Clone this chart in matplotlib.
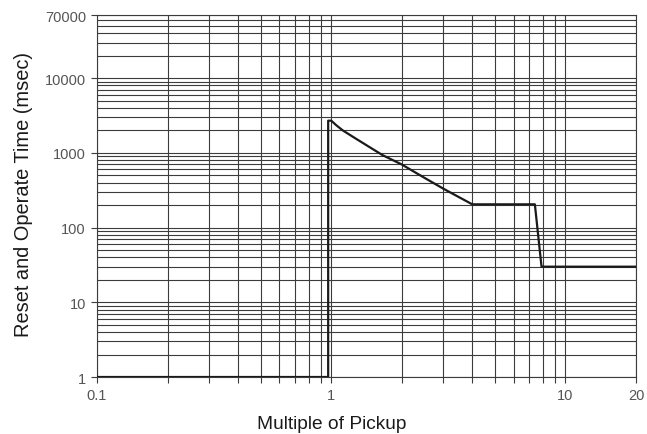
import matplotlib
matplotlib.use("Agg")
import matplotlib.pyplot as plt
from matplotlib.ticker import FixedLocator, LogLocator, NullFormatter

# Reset / operate time curve
multiple = [0.1, 0.97, 0.97, 1.0, 1.05, 1.12, 1.25, 1.5, 1.66, 2.0, 2.5, 3.0, 3.5, 4.0, 7.4, 7.9, 20]
time_ms = [1, 1, 2700, 2700, 2350, 2000, 1610, 1130, 930, 700, 464, 334, 257, 205, 205, 30, 30]

x_ticks = [0.1, 1, 10, 20]
x_labels = ["0.1", "1", "10", "20"]
y_ticks = [1, 10, 100, 1000, 10000, 70000]
y_labels = ["1", "10", "100", "1000", "10000", "70000"]

plt.rcParams["font.family"] = ["Liberation Sans", "DejaVu Sans"]

fig = plt.figure(figsize=(6.47, 4.35), dpi=100)
ax = fig.add_axes([0.150, 0.131, 0.833, 0.832])

ax.plot(multiple, time_ms, color="#1a1a1a", lw=1.6, zorder=3)

ax.set_xscale("log")
ax.set_yscale("log")
ax.set_xlim(0.1, 20)
ax.set_ylim(1, 70000)

ax.xaxis.set_major_locator(FixedLocator(x_ticks))
ax.set_xticklabels(x_labels)
ax.xaxis.set_minor_locator(LogLocator(base=10, subs=range(2, 10)))
ax.xaxis.set_minor_formatter(NullFormatter())
ax.yaxis.set_major_locator(FixedLocator(y_ticks))
ax.set_yticklabels(y_labels)
ax.yaxis.set_minor_locator(LogLocator(base=10, subs=range(2, 10)))
ax.yaxis.set_minor_formatter(NullFormatter())

# grid on every decade subdivision
ax.grid(True, which="both", color="#3c3c3c", lw=0.8)
for s in ax.spines.values():
    s.set_color("#3c3c3c")
    s.set_linewidth(0.8)

ax.tick_params(axis="both", which="major", length=4, width=0.8, color="#3c3c3c",
               labelsize=10.5, labelcolor="#555555", pad=4)
ax.tick_params(axis="x", which="minor", length=4, width=0.8, color="#3c3c3c")
ax.tick_params(axis="y", which="minor", length=0)

# x label sits low, a bit left of the axes centre
fig.text(332 / 647, 5.5 / 435, "Multiple of Pickup", fontsize=13.8,
         ha="center", va="baseline", color="#1a1a1a")
ax.set_ylabel("Reset and Operate Time (msec)", fontsize=14.4, color="#1a1a1a")
ax.yaxis.set_label_coords(-0.118, 0.506)

fig.savefig("out.png", dpi=100)
